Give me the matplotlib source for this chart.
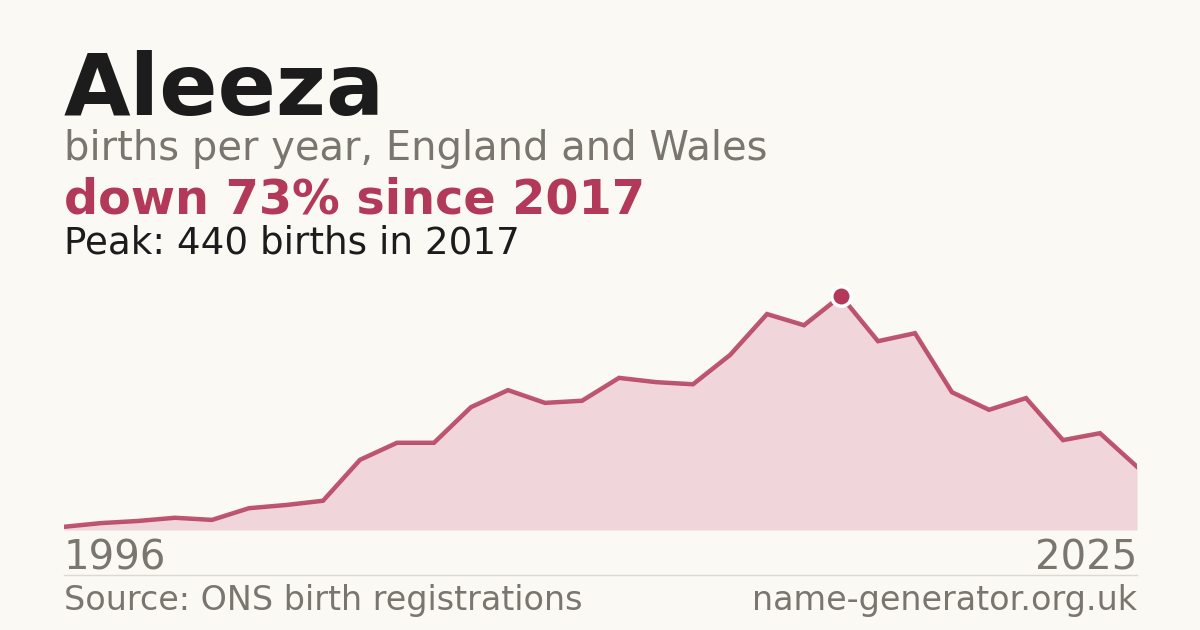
import numpy as np
import matplotlib
matplotlib.use("Agg")
import matplotlib.pyplot as plt

# births per year
years = list(range(1996, 2026))
births = [6, 13, 17, 23, 19, 41, 47, 55, 132, 164,
          164, 231, 263, 239, 243, 286, 278, 274, 329, 406,
          385, 440, 355, 370, 259, 226, 248, 169, 182, 119]

peak_year = 2017
peak_value = 440

bg = "#faf9f4"
red = "#b3395a"
fill_col = "#f0d5db"
grey = "#7a756e"
dark = "#1c1c1c"

W, H = 1200, 630
fig = plt.figure(figsize=(12, 6.3), dpi=100, facecolor=bg)

def fy(px):  # pixel from top -> figure fraction
    return 1 - px / H

def fx(px):
    return px / W

# chart area
ax = fig.add_axes([fx(64), fy(530), fx(1137) - fx(64), (530 - 280) / H])
ax.set_facecolor(bg)
ax.fill_between(years, births, 0, color=fill_col, linewidth=0)
ax.plot(years, births, color=red, linewidth=3.2, solid_joinstyle="miter", alpha=0.85)
ax.plot([peak_year], [peak_value], marker="o", markersize=14, color=red,
        markeredgecolor="white", markeredgewidth=2.5, zorder=5)
ax.set_xlim(years[0], years[-1])
ax.set_ylim(0, 470)
ax.axis("off")

# headline texts
fig.text(fx(64), fy(115), "Aleeza", fontsize=62, fontweight="bold", color=dark, va="baseline")
fig.text(fx(64), fy(160), "births per year, England and Wales", fontsize=28.8, color=grey, va="baseline")
fig.text(fx(64), fy(214), "down 73% since 2017", fontsize=34.4, fontweight="bold", color=red, va="baseline")
fig.text(fx(64), fy(254), "Peak: 440 births in 2017", fontsize=26.8, color=dark, va="baseline")

# year labels
fig.text(fx(64), fy(569), str(years[0]), fontsize=29, color=grey, va="baseline")
fig.text(fx(1137), fy(569), str(years[-1]), fontsize=29, color=grey, va="baseline", ha="right")

# separator line
fig.add_artist(plt.Line2D([fx(64), fx(1137)], [fy(575), fy(575)], color="#dcd9d2", linewidth=1))

# footer
fig.text(fx(64), fy(610), "Source: ONS birth registrations", fontsize=24, color=grey, va="baseline")
fig.text(fx(1137), fy(610), "name-generator.org.uk", fontsize=24, color=grey, va="baseline", ha="right")

fig.savefig("out.png", dpi=100, facecolor=bg)
